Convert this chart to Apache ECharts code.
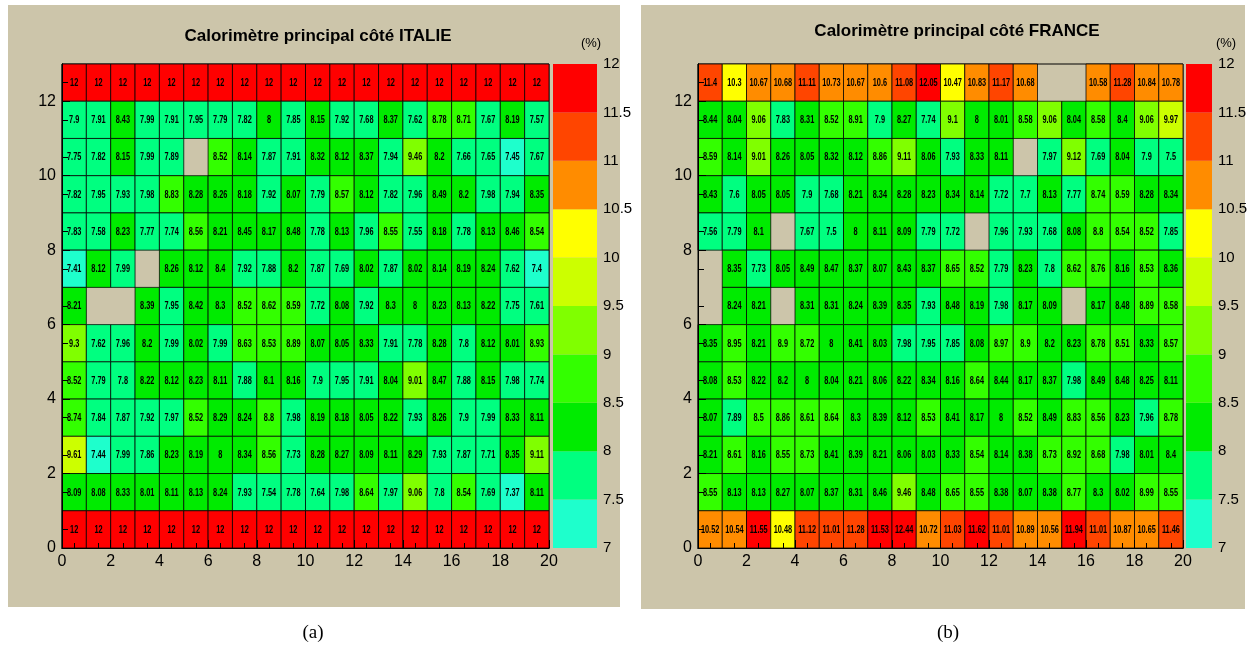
<!DOCTYPE html>
<html><head><meta charset="utf-8">
<script src="https://cdn.jsdelivr.net/npm/echarts@6/dist/echarts.min.js"></script>
<style>html,body{margin:0;padding:0;background:#fff}#c{width:1255px;height:652px}</style>
</head><body><div id="c"></div>
<script>
// ---- data (rows listed from top, y=12, down to bottom, y=0; null = empty cell) ----
const italieTitle = 'Calorimètre principal côté ITALIE';
const franceTitle = 'Calorimètre principal côté FRANCE';
const italie = [
  [12,12,12,12,12,12,12,12,12,12,12,12,12,12,12,12,12,12,12,12],
  [7.9,7.91,8.43,7.99,7.91,7.95,7.79,7.82,8,7.85,8.15,7.92,7.68,8.37,7.62,8.78,8.71,7.67,8.19,7.57],
  [7.75,7.82,8.15,7.99,7.89,null,8.52,8.14,7.87,7.91,8.32,8.12,8.37,7.94,9.46,8.2,7.66,7.65,7.45,7.67],
  [7.82,7.95,7.93,7.98,8.83,8.28,8.26,8.18,7.92,8.07,7.79,8.57,8.12,7.82,7.96,8.49,8.2,7.98,7.94,8.35],
  [7.83,7.58,8.23,7.77,7.74,8.56,8.21,8.45,8.17,8.48,7.78,8.13,7.96,8.55,7.55,8.18,7.78,8.13,8.46,8.54],
  [7.41,8.12,7.99,null,8.26,8.12,8.4,7.92,7.88,8.2,7.87,7.69,8.02,7.87,8.02,8.14,8.19,8.24,7.62,7.4],
  [8.21,null,null,8.39,7.95,8.42,8.3,8.52,8.62,8.59,7.72,8.08,7.92,8.3,8,8.23,8.13,8.22,7.75,7.61],
  [9.3,7.62,7.96,8.2,7.99,8.02,7.99,8.63,8.53,8.89,8.07,8.05,8.33,7.91,7.78,8.28,7.8,8.12,8.01,8.93],
  [8.52,7.79,7.8,8.22,8.12,8.23,8.11,7.88,8.1,8.16,7.9,7.95,7.91,8.04,9.01,8.47,7.88,8.15,7.98,7.74],
  [8.74,7.84,7.87,7.92,7.97,8.52,8.29,8.24,8.8,7.98,8.19,8.18,8.05,8.22,7.93,8.26,7.9,7.99,8.33,8.11],
  [9.61,7.44,7.99,7.86,8.23,8.19,8,8.34,8.56,7.73,8.28,8.27,8.09,8.11,8.29,7.93,7.87,7.71,8.35,9.11],
  [8.09,8.08,8.33,8.01,8.11,8.13,8.24,7.93,7.54,7.78,7.64,7.98,8.64,7.97,9.06,7.8,8.54,7.69,7.37,8.11],
  [12,12,12,12,12,12,12,12,12,12,12,12,12,12,12,12,12,12,12,12]
];
const france = [
  [11.4,10.3,10.67,10.68,11.11,10.73,10.67,10.6,11.08,12.05,10.47,10.83,11.17,10.68,null,null,10.58,11.28,10.84,10.78],
  [8.44,8.04,9.06,7.83,8.31,8.52,8.91,7.9,8.27,7.74,9.1,8,8.01,8.58,9.06,8.04,8.58,8.4,9.06,9.97],
  [8.59,8.14,9.01,8.26,8.05,8.32,8.12,8.86,9.11,8.06,7.93,8.33,8.11,null,7.97,9.12,7.69,8.04,7.9,7.5],
  [8.43,7.6,8.05,8.05,7.9,7.68,8.21,8.34,8.28,8.23,8.34,8.14,7.72,7.7,8.13,7.77,8.74,8.59,8.28,8.34],
  [7.56,7.79,8.1,null,7.67,7.5,8,8.11,8.09,7.79,7.72,null,7.96,7.93,7.68,8.08,8.8,8.54,8.52,7.85],
  [null,8.35,7.73,8.05,8.49,8.47,8.37,8.07,8.43,8.37,8.65,8.52,7.79,8.23,7.8,8.62,8.76,8.16,8.53,8.36],
  [null,8.24,8.21,null,8.31,8.31,8.24,8.39,8.35,7.93,8.48,8.19,7.98,8.17,8.09,null,8.17,8.48,8.89,8.58],
  [8.35,8.95,8.21,8.9,8.72,8,8.41,8.03,7.98,7.95,7.85,8.08,8.97,8.9,8.2,8.23,8.78,8.51,8.33,8.57],
  [8.08,8.53,8.22,8.2,8,8.04,8.21,8.06,8.22,8.34,8.16,8.64,8.44,8.17,8.37,7.98,8.49,8.48,8.25,8.11],
  [8.07,7.89,8.5,8.86,8.61,8.64,8.3,8.39,8.12,8.53,8.41,8.17,8,8.52,8.49,8.83,8.56,8.23,7.96,8.78],
  [8.21,8.61,8.16,8.55,8.73,8.41,8.39,8.21,8.06,8.03,8.33,8.54,8.14,8.38,8.73,8.92,8.68,7.98,8.01,8.4],
  [8.55,8.13,8.13,8.27,8.07,8.37,8.31,8.46,9.46,8.48,8.65,8.55,8.38,8.07,8.38,8.77,8.3,8.02,8.99,8.55],
  [10.52,10.54,11.55,10.48,11.12,11.01,11.28,11.53,12.44,10.72,11.03,11.62,11.01,10.89,10.56,11.94,11.01,10.87,10.65,11.46]
];
const levels = [7,7.5,8,8.5,9,9.5,10,10.5,11,11.5,12];
const palette = ['#1EFFCC','#00FF80','#00EB00','#33FF00','#80FF00','#CCFF00','#FFFF00','#FF8C00','#FF4500','#FF0000'];
const colCats = Array.from({length:20},(_,i)=>String(i));
const rowCats = Array.from({length:13},(_,i)=>String(i));

// ---- helpers ----
const BEIGE = '#CCC5AA';
function colorOf(v){ for(let i=levels.length-2;i>=0;i--){ if(v>=levels[i]) return palette[i]; } return palette[0]; }
function toCells(rows){
  const out=[]; const n=rows.length;
  rows.forEach((row,r)=>row.forEach((v,c)=>{ if(v!==null) out.push([c, n-1-r, v]); }));
  return out;
}
const bands = levels.slice(0,-1).map((lo,i)=>[lo, levels[i+1], i]);

function renderCell(params, api){
  const x=api.value(0), y=api.value(1), v=api.value(2);
  const p0=api.coord([x, y+1]), p1=api.coord([x+1, y]);
  return {type:'group', children:[
    {type:'rect', shape:{x:p0[0], y:p0[1], width:p1[0]-p0[0], height:p1[1]-p0[1]},
     style:{fill:colorOf(v), stroke:'rgba(0,0,0,0.75)', lineWidth:1}},
    {type:'text', x:(p0[0]+p1[0])/2, y:(p0[1]+p1[1])/2+0.5, scaleX:0.7, scaleY:1,
     style:{x:0, y:0, text:String(v), align:'center', verticalAlign:'middle',
      font:'bold 10.5px "Liberation Sans",Arial,sans-serif', fill:'#000'}}
  ]};
}
function renderBand(params, api){
  const lo=api.value(0), hi=api.value(1), i=api.value(2);
  const p0=api.coord([0, hi]), p1=api.coord([1, lo]);
  return {type:'rect', shape:{x:p0[0], y:p0[1], width:p1[0]-p0[0], height:p1[1]-p0[1]}, style:{fill:palette[i]}};
}

const axFont = {fontFamily:'Liberation Sans', fontSize:16, color:'#000'};
function mainX(g){ return {gridIndex:g, type:'value', min:0, max:20, interval:2,
  axisLine:{lineStyle:{color:'#000'}}, axisTick:{inside:true, length:8, lineStyle:{color:'#000'}},
  splitLine:{show:false}, axisLabel:Object.assign({margin:6}, axFont), z:10}; }
function mainY(g){ return {gridIndex:g, type:'value', min:0, max:13, interval:2,
  axisLine:{lineStyle:{color:'#000'}}, axisTick:{inside:true, length:8, lineStyle:{color:'#000'}},
  splitLine:{show:false}, axisLabel:Object.assign({margin:6, showMaxLabel:false}, axFont), z:10}; }
function tickX(g){ return {gridIndex:g, type:'category', data:colCats, position:'bottom', offset:0, z:10,
  axisLine:{show:true, lineStyle:{color:'#000'}}, axisLabel:{show:true, formatter:()=>''},
  axisTick:{show:true, inside:true, alignWithLabel:true, interval:0, length:5, lineStyle:{color:'#000'}}}; }
function tickY(g){ return {gridIndex:g, type:'category', data:rowCats, position:'left', offset:0, z:10,
  axisLine:{show:true, lineStyle:{color:'#000'}}, axisLabel:{show:true, formatter:()=>''},
  axisTick:{show:true, inside:true, alignWithLabel:true, interval:0, length:6, lineStyle:{color:'#000'}}}; }
function cbX(g){ return {gridIndex:g, type:'value', min:0, max:1, show:false}; }
function cbY(g){ return {gridIndex:g, type:'value', min:7, max:12, interval:0.5, position:'right',
  axisLine:{show:false}, axisTick:{show:false}, splitLine:{show:false},
  axisLabel:Object.assign({margin:6}, axFont, {fontSize:15})}; }

const chart = echarts.init(document.getElementById('c'), null, {renderer:'canvas'});
chart.setOption({
  animation:false,
  backgroundColor:'#fff',
  graphic:[
    {type:'rect', z:-10, shape:{x:8,y:5,width:612,height:602}, style:{fill:BEIGE}},
    {type:'rect', z:-10, shape:{x:641,y:5,width:604,height:604}, style:{fill:BEIGE}},
    {type:'text', style:{x:318,y:36,text:italieTitle,align:'center',verticalAlign:'middle',font:'bold 17px "Liberation Sans",sans-serif',fill:'#000'}},
    {type:'text', style:{x:957,y:31,text:franceTitle,align:'center',verticalAlign:'middle',font:'bold 17px "Liberation Sans",sans-serif',fill:'#000'}},
    {type:'text', style:{x:591,y:43,text:'(%)',align:'center',verticalAlign:'middle',font:'13px "Liberation Sans",sans-serif',fill:'#000'}},
    {type:'text', style:{x:1226,y:43,text:'(%)',align:'center',verticalAlign:'middle',font:'13px "Liberation Sans",sans-serif',fill:'#000'}},
    {type:'text', style:{x:313,y:633,text:'(a)',align:'center',verticalAlign:'middle',font:'19px "Liberation Serif","DejaVu Serif",serif',fill:'#000'}},
    {type:'text', style:{x:948,y:633,text:'(b)',align:'center',verticalAlign:'middle',font:'19px "Liberation Serif","DejaVu Serif",serif',fill:'#000'}}
  ],
  grid:[
    {left:62, top:64, width:487, height:484, show:true, backgroundColor:BEIGE, borderColor:'#000', borderWidth:1},
    {left:553, top:64, width:44, height:484, show:true, backgroundColor:'transparent', borderColor:'#000', borderWidth:0},
    {left:698, top:64, width:485, height:484, show:true, backgroundColor:BEIGE, borderColor:'#000', borderWidth:1},
    {left:1186, top:64, width:26, height:484, show:true, backgroundColor:'transparent', borderColor:'#000', borderWidth:0}
  ],
  xAxis:[mainX(0), tickX(0), cbX(1), mainX(2), tickX(2), cbX(3)],
  yAxis:[mainY(0), tickY(0), cbY(1), mainY(2), tickY(2), cbY(3)],
  series:[
    {type:'custom', z:1, xAxisIndex:0, yAxisIndex:0, renderItem:renderCell, data:toCells(italie)},
    {type:'custom', z:1, xAxisIndex:2, yAxisIndex:2, renderItem:renderBand, data:bands},
    {type:'custom', z:1, xAxisIndex:3, yAxisIndex:3, renderItem:renderCell, data:toCells(france)},
    {type:'custom', z:1, xAxisIndex:5, yAxisIndex:5, renderItem:renderBand, data:bands}
  ]
});
</script></body></html>
